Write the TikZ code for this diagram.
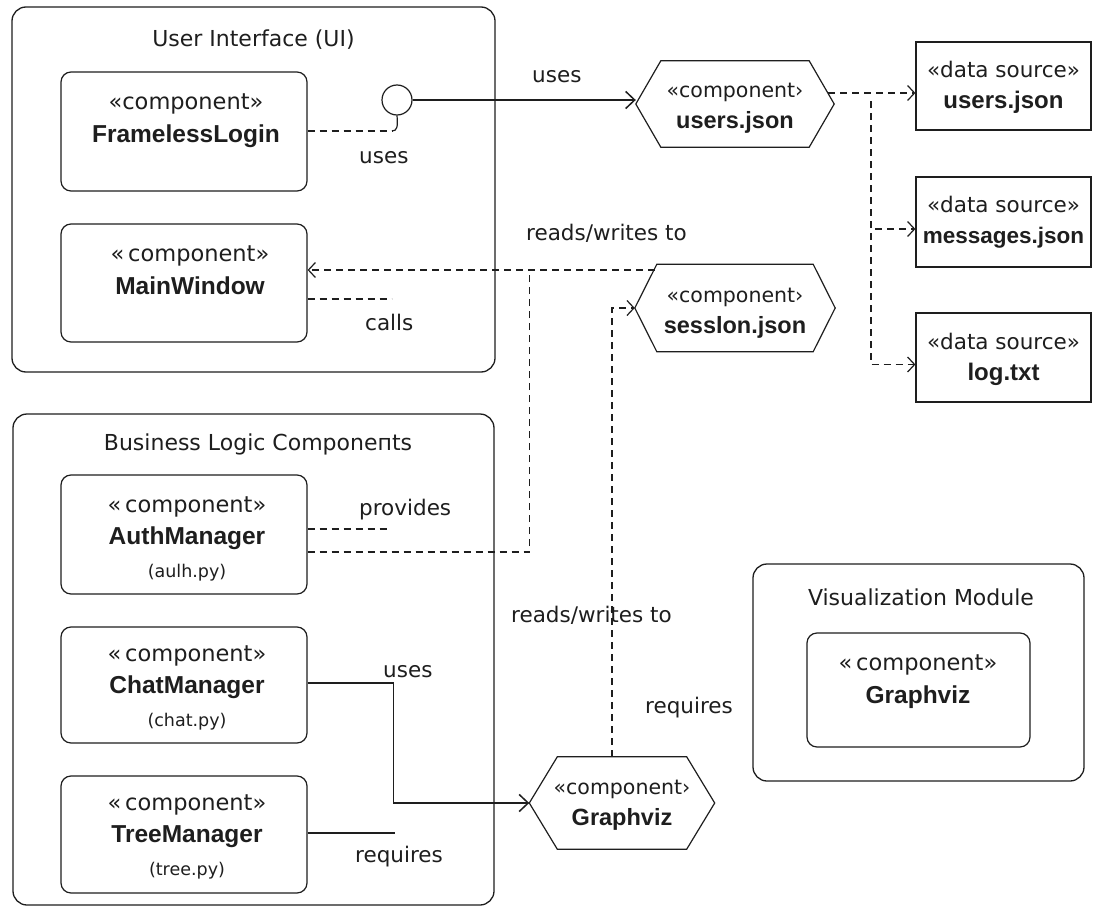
\documentclass[tikz,border=0pt]{standalone}
\usepackage{fontspec}
\setmainfont{DejaVu Sans}
\newfontfamily\namefont{Liberation Sans}
\usetikzlibrary{arrows.meta,calc}

\definecolor{ink}{HTML}{1E1E1E}

% font sizes used in the diagram
\newcommand\ttlfont{\fontsize{22}{26}\selectfont}
\newcommand\stfont{\fontsize{22.5}{32.5}\selectfont}
\newcommand\nmfont{\namefont\bfseries\fontsize{24.5}{32.5}\selectfont}
\newcommand\pyfont{\fontsize{17.5}{32.5}\selectfont}
\newcommand\hxfont{\fontsize{20.5}{30.5}\selectfont}
\newcommand\hxname{\namefont\bfseries\fontsize{23.5}{30.5}\selectfont}
\newcommand\dsfont{\fontsize{21.5}{31}\selectfont}
\newcommand\dsname{\namefont\bfseries\fontsize{24}{31}\selectfont}
\newcommand\dsnamesm{\namefont\bfseries\fontsize{22.5}{31}\selectfont}

\tikzset{
  container/.style={draw=ink, line width=1.3pt, rounded corners=14pt, inner sep=0pt},
  compbox/.style={draw=ink, line width=1.2pt, rounded corners=10pt, inner sep=0pt},
  databox/.style={draw=ink, line width=1.2pt, inner sep=0pt},
  hexbox/.style={inner sep=0pt},
  hexline/.style={draw=ink, line width=1.2pt, line join=miter},
  % anchor=base sits on the baseline of the last line of a multi-line text
  txt/.style={anchor=base, inner sep=0pt, align=center, text=ink},
  lbl/.style={anchor=base west, inner sep=0pt, font=\fontsize{21.5}{26}\selectfont, text=ink},
  dsh/.style={draw=ink, line width=1.2pt, dash pattern=on 7pt off 5pt},
  dep/.style={dsh, -{Straight Barb[length=7pt,width=15pt]}},
  sol/.style={draw=ink, line width=1.2pt},
  solarr/.style={sol, -{Straight Barb[length=9pt,width=17pt,line width=1.5pt]}},
}

% hexagonal outline drawn around a rectangular node: #1 node, #2 slant
\newcommand\hexOutline[2]{%
  \draw[hexline] ([xshift=#2]#1.north west) -- ([xshift=-#2]#1.north east)
    -- (#1.east) -- ([xshift=-#2]#1.south east) -- ([xshift=#2]#1.south west)
    -- (#1.west) -- cycle;}

\begin{document}
\begin{tikzpicture}[x=1pt,y=-1pt]
\useasboundingbox (0,0) rectangle (1096,910);
\fill[white] (0,0) rectangle (1096,910);

% ---------- containers ----------
\node[container, minimum width=483pt, minimum height=365pt] (ui) at (253.5,189.5) {};
\node[container, minimum width=481pt, minimum height=491pt] (bl) at (253.5,659.5) {};
\node[container, minimum width=331pt, minimum height=217pt] (vis) at (918.5,672.5) {};

\node[txt, font=\ttlfont] (ui-t) at (253.5,46) {User Interface (UI)};
\node[txt, font=\ttlfont] (bl-t) at (258,450) {Business Logic Componeпts};
\node[txt, font=\ttlfont] (vis-t) at (921,605) {Visualization Module};

% ---------- component boxes ----------
\node[compbox, minimum width=246pt, minimum height=119pt] (fl) at (184,131.5) {};
\node[compbox, minimum width=246pt, minimum height=118pt] (mw) at (184,283) {};
\node[compbox, minimum width=246pt, minimum height=119pt] (am) at (184,534.5) {};
\node[compbox, minimum width=246pt, minimum height=116pt] (cm) at (184,685) {};
\node[compbox, minimum width=246pt, minimum height=117pt] (tm) at (184,834.5) {};
\node[compbox, minimum width=223pt, minimum height=114pt] (gv) at (918.5,690) {};

\node[txt, font=\stfont] (fl-t) at (186,142) {«component»\\{\nmfont FramelessLogin}};
\node[txt, font=\stfont] (mw-t) at (190,294) {«\,component»\\{\nmfont MainWindow}};
\node[txt, font=\stfont] (am-t) at (187,577) {«\,component»\\{\nmfont AuthManager}\\{\pyfont (aulh.py)}};
\node[txt, font=\stfont] (cm-t) at (187,726) {«\,component»\\{\nmfont ChatManager}\\{\pyfont (chat.py)}};
\node[txt, font=\stfont] (tm-t) at (187,875) {«\,component»\\{\nmfont TreeManager}\\{\pyfont (tree.py)}};
\node[txt, font=\stfont] (gv-t) at (918,703) {«\,component»\\{\nmfont Graphviz}};

% ---------- hexagonal components ----------
\node[hexbox, minimum width=198pt, minimum height=86pt] (uhex) at (735,104) {};
\node[hexbox, minimum width=200pt, minimum height=87pt] (shex) at (735,308) {};
\node[hexbox, minimum width=185pt, minimum height=92pt] (ghex) at (622,803) {};
\hexOutline{uhex}{25pt}
\hexOutline{shex}{22pt}
\hexOutline{ghex}{28pt}

\node[txt, font=\hxfont] (uhex-t) at (735,128) {«component›\\{\hxname users.json}};
\node[txt, font=\hxfont] (shex-t) at (735,333) {«component›\\{\hxname sesslon.json}};
\node[txt, font=\hxfont] (ghex-t) at (622,825) {«component›\\{\hxname Graphviz}};

% ---------- data sources ----------
\node[databox, minimum width=175pt, minimum height=88pt] (d1) at (1003.5,86) {};
\node[databox, minimum width=175pt, minimum height=90pt] (d2) at (1003.5,222) {};
\node[databox, minimum width=175pt, minimum height=89pt] (d3) at (1003.5,357.5) {};

\node[txt, font=\dsfont] (d1-t) at (1003.5,108) {«data source»\\{\dsname users.json}};
\node[txt, font=\dsfont] (d2-t) at (1003.5,243) {«data source»\\{\dsnamesm messages.json}};
\node[txt, font=\dsfont] (d3-t) at (1003.5,380) {«data source»\\{\dsname log.txt}};

% ---------- provided interface ----------
\node[draw=ink, line width=1.2pt, circle, minimum size=30pt, inner sep=0pt, fill=white] (iface) at (397,100) {};

% ---------- connectors ----------
% FramelessLogin to its interface
\coordinate (flk) at (392,131);
\draw[dsh] (fl.east |- flk) -- (flk);
\draw[sol] (flk) .. controls (397,131) and (398,127) .. (iface.south);
% interface to users.json component
\draw[solarr] (iface.east) -- (iface.east -| uhex.west);

% users.json component to the data sources
\coordinate (d1in) at ([yshift=-7pt]d1.west);
\coordinate (d2in) at ([yshift=-7pt]d2.west);
\coordinate (d3in) at ([yshift=-7pt]d3.west);
\coordinate (ux) at ([xshift=-6pt]uhex.east);
\draw[dep] (ux |- d1in) -- (d1in);
\coordinate (bus) at (871,101);
\draw[dep] (bus) |- (d2in);
\draw[dep] (bus) |- (d3in);

% session.json back to MainWindow and AuthManager
\coordinate (mwin) at ([yshift=13pt]mw.east);
\coordinate (stl) at ([xshift=20pt]shex.north west);
\draw[dep] (stl |- mwin) -- (mwin);
\coordinate (amout) at ([yshift=-17.5pt]am.east);
\path (mwin) ++(222,0) coordinate (jn);
\draw[dsh] (amout) -| (jn);

% short dashed stubs
\draw[dsh] ([yshift=5.5pt]am.east) -- ++(83,0);
\draw[dsh] ([yshift=-16pt]mw.east) -- ++(84,0);

% Graphviz up to session.json
\coordinate (gtop) at ([xshift=-10pt]ghex.north);
\draw[dep] (gtop) |- (shex.west);

% ChatManager uses Graphviz, TreeManager requires
\draw[solarr] ([yshift=2pt]cm.east) -- ++(86,0) |- (ghex.west);
\draw[sol] ([yshift=1.5pt]tm.east) -- ++(87,0);

% ---------- connector labels ----------
\node[lbl] (l-uses1) at (532,82) {uses};
\node[lbl] (l-uses2) at (359,163) {uses};
\node[lbl] (l-rw1) at (526,240) {reads/writes to};
\node[lbl] (l-calls) at (365,330) {calls};
\node[lbl] (l-prov) at (359,515) {provides};
\node[lbl] (l-rw2) at (511,622) {reads/writes to};
\node[lbl] (l-uses3) at (383,677) {uses};
\node[lbl] (l-req1) at (645,713) {requires};
\node[lbl] (l-req2) at (355,862) {requires};
\end{tikzpicture}
\end{document}
